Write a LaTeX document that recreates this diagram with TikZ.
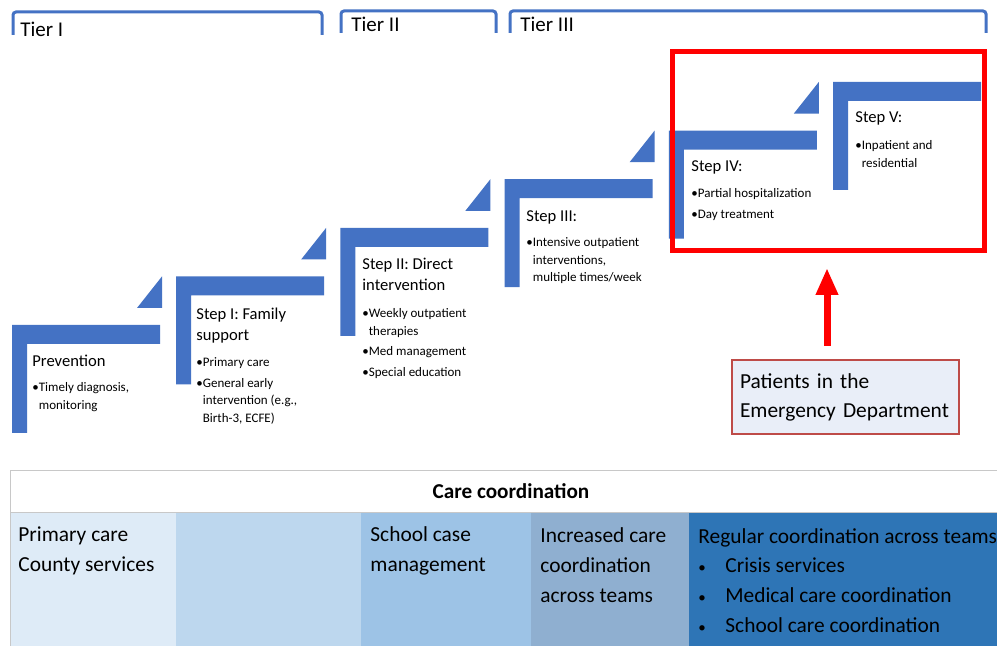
\documentclass[tikz,border=0pt]{standalone}
\usepackage{fontspec}
\setmainfont{Carlito}
\usepackage{tikz}
\usetikzlibrary{arrows.meta}

\definecolor{stepblue}{HTML}{4472C4}
\definecolor{cellA}{HTML}{DEEBF7}
\definecolor{cellB}{HTML}{BDD7EE}
\definecolor{cellC}{HTML}{9DC3E6}
\definecolor{cellD}{HTML}{8FAFD0}
\definecolor{cellE}{HTML}{2E75B6}
\definecolor{edfill}{HTML}{E9EEF8}
\definecolor{edline}{HTML}{BE4B48}
\definecolor{rulegray}{HTML}{C8C8C8}

\newcommand{\cellbullet}{\makebox[13.5pt][l]{\fontsize{7.5}{7.5}\selectfont•}}

\begin{document}
\begin{tikzpicture}[x=0.5pt,y=-0.5pt,
		tierline/.style={draw=stepblue,line width=1.5pt,rounded corners=1.5pt},
		tierlabel/.style={anchor=base west,inner sep=0pt,font=\fontsize{10.5}{12}\selectfont},
		stephead/.style={anchor=base west,inner sep=0pt,align=left,font=\fontsize{8.3}{10.25}\selectfont},
		steplist/.style={anchor=base west,inner sep=0pt,align=left,font=\fontsize{6.5}{8.75}\selectfont},
		celltext/.style={anchor=base west,inner sep=0pt,align=left,font=\fontsize{10.7}{15}\selectfont}]
		\useasboundingbox[fill=white] (0,0) rectangle (997,646);
		
		% tiers
		\draw[tierline] (13,35) -- (13,12) -- (322,12) -- (322,35);
		\draw[tierline] (341,33) -- (341,11) -- (496,11) -- (496,33);
		\draw[tierline] (510,33) -- (510,11) -- (986,11) -- (986,33);
		\node[tierlabel] (tier1) at (20,37) {Tier I};
		\node[tierlabel] (tier2) at (351,32) {Tier II};
		\node[tierlabel] (tier3) at (520,32) {Tier III};
		
		% steps (multi-line texts sit on the baseline of their last line)
		\foreach \k in {0,...,5}{
			\pgfmathsetmacro{\xa}{12+164.2*\k}
			\pgfmathsetmacro{\ya}{325-48.6*\k}
			\fill[stepblue] (\xa,\ya) -- ++(148,0) -- ++(0,19) -- ++(-133,0)
				-- ++(0,89) -- ++(-15,0) -- cycle;
		}
		\foreach \k in {0,...,4}{
			\pgfmathsetmacro{\xa}{12+164.2*\k}
			\pgfmathsetmacro{\ya}{325-48.6*\k}
			\fill[stepblue] (\xa+125,\ya-17) -- ++(25,0) -- ++(0,-31.6) -- cycle;
		}
		
		\node[stephead] (prevhead) at (32,367) {Prevention};
		\node[steplist] (prevlist) at (32,409.5) {•Timely diagnosis,\\\hphantom{•}monitoring};
		
		\node[stephead] (s1head) at (196,340.5) {Step I: Family\\support};
		\node[steplist] (s1list) at (196,422.5) {•Primary care\\[1.5pt]•General early\\
			\hphantom{•}intervention (e.g.,\\\hphantom{•}Birth-3, ECFE)};
		
		\node[stephead] (s2head) at (362,290.5) {Step II: Direct\\intervention};
		\node[steplist] (s2list) at (362,376.5) {•Weekly outpatient\\\hphantom{•}therapies\\[1.5pt]
			•Med management\\[1.5pt]•Special education};
		
		\node[stephead] (s3head) at (526,222) {Step III:};
		\node[steplist] (s3list) at (526,282) {•Intensive outpatient\\\hphantom{•}interventions,\\
			\hphantom{•}multiple times/week};
		
		\node[stephead] (s4head) at (691,172) {Step IV:};
		\node[steplist] (s4list) at (691,218.5) {•Partial hospitalization\\[1.5pt]•Day treatment};
		
		\node[stephead] (s5head) at (855,123) {Step V:};
		\node[steplist] (s5list) at (855,167.5) {•Inpatient and\\\hphantom{•}residential};
		
		% emergency department
		\node[draw=red,line width=2.5pt,minimum width=156pt,minimum height=99.5pt,
			inner sep=0pt] (focus) at (828.5,151) {};
		\node[draw=edline,fill=edfill,line width=0.6pt,minimum width=113.5pt,
			minimum height=37pt,text width=105.5pt,inner sep=4pt,align=left,
			font=\fontsize{10.7}{14.5}\selectfont] (ed) at (845.5,397)
			{Patients in the\\Emergency Department};
		\coordinate (arrowbase) at (827,346);
		\coordinate (arrowtip) at (827,268);
		\draw[red,line width=3.5pt,-{Triangle[width=10.5pt,length=13.5pt]}]
			(arrowbase) -- (arrowtip);
		
		% care coordination
		\fill[cellA] (10,512) rectangle (176,646);
		\fill[cellB] (176,512) rectangle (361,646);
		\fill[cellC] (361,512) rectangle (531,646);
		\fill[cellD] (531,512) rectangle (689,646);
		\fill[cellE] (689,512) rectangle (997,646);
		\draw[rulegray] (10,646) -- (10,470) -- (997,470);
		\draw[rulegray] (10,512) -- (997,512);
		\node[anchor=base,inner sep=0pt,font=\bfseries\fontsize{10.6}{12}\selectfont]
			(carehead) at (511,499) {Care coordination};
		\node[celltext] (cell1) at (18,572) {Primary care\\County services};
		\node[celltext] (cell3) at (370,572) {School case\\management};
		\node[celltext] (cell4) at (540,603) {Increased care\\coordination\\across teams};
		\node[celltext] (cell5) at (698,633) {Regular coordination across teams\\
			\cellbullet Crisis services\\
			\cellbullet Medical care coordination\\
			\cellbullet School care coordination};
	\end{tikzpicture}
\end{document}
